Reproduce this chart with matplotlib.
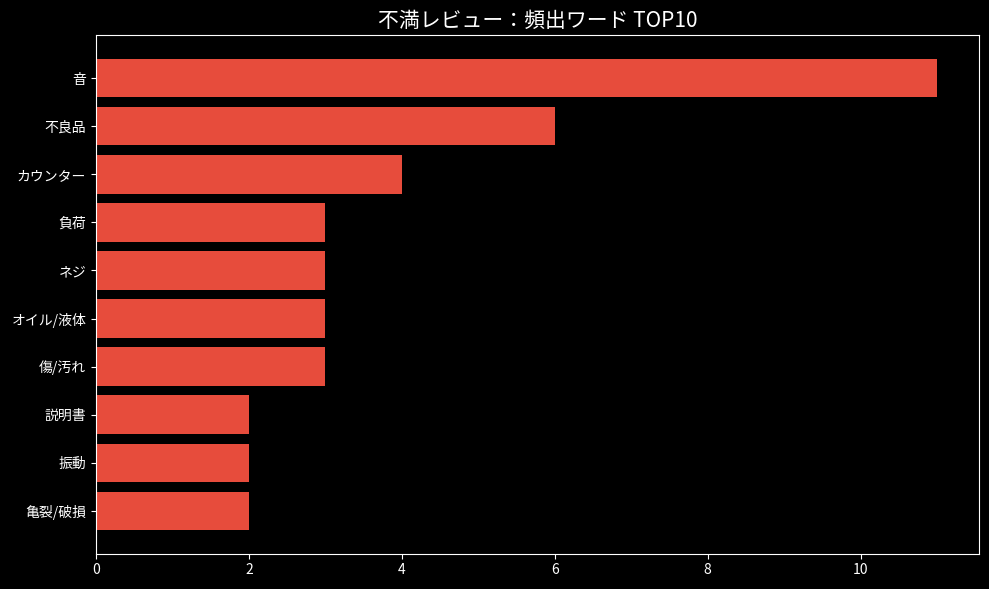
import matplotlib
matplotlib.use("Agg")
from matplotlib import pyplot as plt

plt.style.use("dark_background")
plt.rcParams['font.family'] = ['Noto Sans CJK JP', 'DejaVu Sans']

# top10 words from complaint reviews (top to bottom)
words = ["音", "不良品", "カウンター", "負荷", "ネジ", "オイル/液体", "傷/汚れ", "説明書", "振動", "亀裂/破損"]
counts = [11, 6, 4, 3, 3, 3, 3, 2, 2, 2]

fig, ax = plt.subplots(figsize=(9.89, 5.89), dpi=100)
ax.barh(words[::-1], counts[::-1], color="#e74c3c", height=0.8)
ax.set_title("不満レビュー：頻出ワード TOP10", fontsize=15)

plt.subplots_adjust(left=0.097, right=0.99, top=0.94, bottom=0.06)
plt.savefig("out.png", dpi=100, facecolor="black")
